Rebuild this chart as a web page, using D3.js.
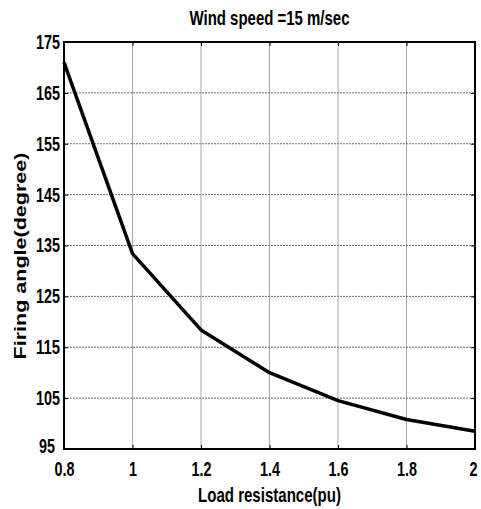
<!DOCTYPE html>
<html>
<head>
<meta charset="utf-8">
<script src="https://cdn.jsdelivr.net/npm/d3@7"></script>
<style>
  html, body { margin: 0; padding: 0; background: #fff; }
  svg { display: block; }
  .narrow { font-family: "Liberation Sans Narrow", "Arial Narrow", "Liberation Sans", Arial, sans-serif; font-weight: bold; fill: #000; }
  .wide { font-family: "Liberation Sans", Arial, sans-serif; font-weight: bold; fill: #000; }
</style>
</head>
<body>
<script>
// ---- data ----
const loadResistance = [0.8, 1.0, 1.2, 1.4, 1.6, 1.8, 2.0];
const firingAngle = [171.0, 133.4, 118.4, 110.0, 104.5, 100.8, 98.5];
const xTicks = [0.8, 1, 1.2, 1.4, 1.6, 1.8, 2];
const yTicks = [95, 105, 115, 125, 135, 145, 155, 165, 175];
const titleText = "Wind speed =15 m/sec";
const xLabelText = "Load resistance(pu)";
const yLabelText = "Firing angle(degree)";

const W = 481, H = 509;
const m = { left: 64, right: 6, top: 42, bottom: 60 };
const svg = d3.select("body").append("svg").attr("width", W).attr("height", H);

const x = d3.scaleLinear().domain([0.8, 2]).range([m.left, W - m.right]);
const y = d3.scaleLinear().domain([95, 175]).range([H - m.bottom, m.top]);

// grid
const g = svg.append("g");
g.selectAll("line.vg").data(xTicks.slice(1, -1)).enter().append("line")
  .attr("x1", d => x(d)).attr("x2", d => x(d))
  .attr("y1", y(175)).attr("y2", y(95))
  .attr("stroke", "#a8a8a8").attr("stroke-width", 1);
g.selectAll("line.hg").data(yTicks.slice(1, -1)).enter().append("line")
  .attr("y1", d => y(d)).attr("y2", d => y(d))
  .attr("x1", x(0.8)).attr("x2", x(2))
  .attr("stroke", "#707070").attr("stroke-width", 1).attr("stroke-dasharray", "2,1");

// axes with inward ticks
const tl = 4;
const axB = d3.axisBottom(x).tickValues(xTicks).tickSize(-tl).tickFormat(d3.format("~g")).tickPadding(13);
const axT = d3.axisTop(x).tickValues(xTicks).tickSize(-tl).tickFormat("");
const axL = d3.axisLeft(y).tickValues(yTicks).tickSize(-tl).tickFormat(d3.format("d")).tickPadding(4);
const axR = d3.axisRight(y).tickValues(yTicks).tickSize(-tl).tickFormat("");

function tickWidth(s) {
  let w = 0;
  for (const c of s) w += (c === ".") ? 4 : 8;
  return w;
}
function styleAxis(sel) {
  sel.select(".domain").remove();
  sel.selectAll(".tick line").attr("stroke", "#000").attr("stroke-width", 1);
  sel.selectAll(".tick text")
    .attr("class", "narrow").style("font-size", "20px")
    .each(function () {
      const t = d3.select(this);
      const s = t.text();
      if (s) t.attr("textLength", tickWidth(s)).attr("lengthAdjust", "spacingAndGlyphs");
    });
}
const gb = svg.append("g").attr("transform", `translate(0,${y(95)})`).call(axB).call(styleAxis);
gb.selectAll(".tick").filter(d => d === 2).select("text").attr("dx", -2);
svg.append("g").attr("transform", `translate(0,${y(175)})`).call(axT).call(styleAxis);
const gl = svg.append("g").attr("transform", `translate(${x(0.8)},0)`).call(axL).call(styleAxis);
gl.selectAll(".tick").filter(d => d === 95).select("text").attr("dx", -5).attr("dy", "0.15em");
svg.append("g").attr("transform", `translate(${x(2)},0)`).call(axR).call(styleAxis);

// box
svg.append("rect").attr("x", x(0.8)).attr("y", y(175))
  .attr("width", x(2) - x(0.8)).attr("height", y(95) - y(175))
  .attr("fill", "none").attr("stroke", "#000").attr("stroke-width", 2);

// line
const line = d3.line().x((d, i) => x(loadResistance[i])).y(d => y(d));
svg.append("path").datum(firingAngle).attr("d", line)
  .attr("fill", "none").attr("stroke", "#000").attr("stroke-width", 3.5)
  .attr("stroke-linejoin", "round");

// title & labels
svg.append("text").attr("class", "narrow").attr("x", (x(0.8) + x(2)) / 2).attr("y", 25)
  .attr("text-anchor", "middle").style("font-size", "21px")
  .attr("textLength", 160).attr("lengthAdjust", "spacingAndGlyphs").text(titleText);
svg.append("text").attr("class", "narrow").attr("x", (x(0.8) + x(2)) / 2).attr("y", 502)
  .attr("text-anchor", "middle").style("font-size", "21px")
  .attr("textLength", 143).attr("lengthAdjust", "spacingAndGlyphs").text(xLabelText);
svg.append("text").attr("class", "wide")
  .attr("transform", `translate(26,256) rotate(-90)`)
  .attr("text-anchor", "middle").style("font-size", "17px")
  .attr("textLength", 207).attr("lengthAdjust", "spacingAndGlyphs").text(yLabelText);
</script>
</body>
</html>
